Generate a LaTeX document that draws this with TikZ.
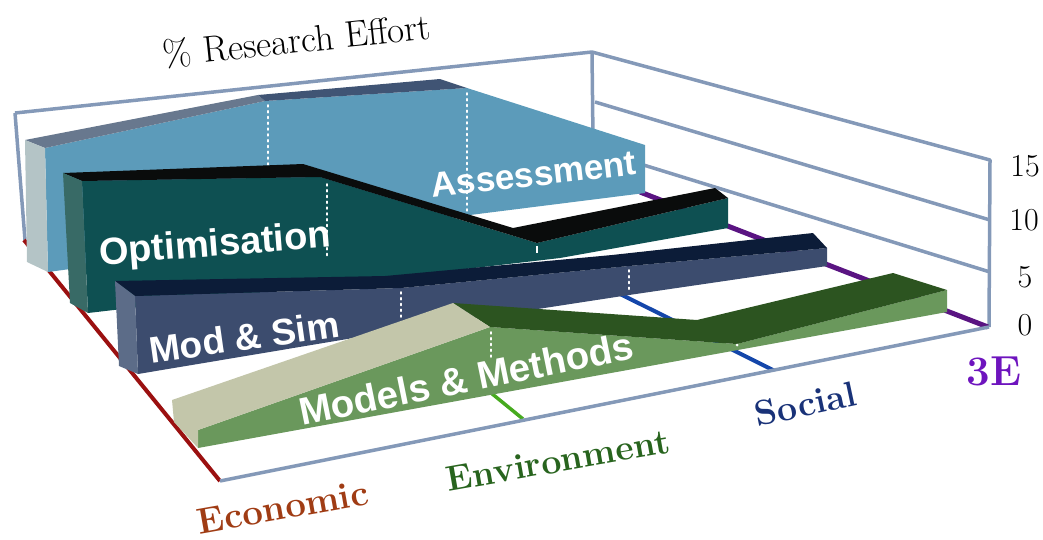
\documentclass[tikz,border=0pt]{standalone}
\usepackage{fontspec}
\newfontfamily\labfont{Liberation Sans}
\definecolor{framec}{RGB}{132,153,184}
\definecolor{asfront}{RGB}{92,155,186}
\definecolor{astopA}{RGB}{104,120,142}
\definecolor{astopB}{RGB}{64,84,116}
\definecolor{asend}{RGB}{180,196,198}
\definecolor{opfront}{RGB}{14,80,82}
\definecolor{optop}{RGB}{10,12,12}
\definecolor{opend}{RGB}{56,106,102}
\definecolor{msfront}{RGB}{60,76,110}
\definecolor{mstop}{RGB}{12,28,56}
\definecolor{msend}{RGB}{92,108,136}
\definecolor{mmfront}{RGB}{106,152,92}
\definecolor{mmtop}{RGB}{44,84,32}
\definecolor{mmkhaki}{RGB}{195,198,170}
\definecolor{redax}{RGB}{155,16,16}
\definecolor{purpax}{RGB}{90,20,130}
\definecolor{blueax}{RGB}{20,70,170}
\definecolor{greenax}{RGB}{70,170,30}
\definecolor{econc}{RGB}{160,60,20}
\definecolor{envc}{RGB}{40,100,30}
\definecolor{socc}{RGB}{25,50,120}
\definecolor{threec}{RGB}{110,20,190}
\begin{document}
\begin{tikzpicture}[x=1pt,y=-1pt,
  frameline/.style={draw=framec, line width=3.5pt, line join=round},
  dotline/.style={draw=white, line width=1.8pt, dash pattern=on 1.8pt off 4pt, line cap=round},
  ribbonlab/.style={text=white, inner sep=0pt, font=\labfont\bfseries\fontsize{37}{40}\selectfont, anchor=base},
  axlab/.style={inner sep=0pt, font=\bfseries\fontsize{35.5}{40}\selectfont, anchor=base},
  numlab/.style={inner sep=0pt, font=\fontsize{32}{36}\selectfont, anchor=center}]
\useasboundingbox (0,0) rectangle (1043,539);
% frame
\draw[frameline] (15,113) -- (592,52) -- (990,160) -- (989,327);
\draw[frameline] (592,52) -- (593,140);
\draw[frameline] (15,113) -- (25,240);
\draw[frameline] (595,102) -- (990,220);
\draw[frameline] (595,150) -- (990,272);
% axes on floor
\draw[draw=purpax, line width=5pt] (640,192) -- (988,327);
\draw[draw=blueax, line width=4pt] (600,284) -- (773,370);
\draw[draw=greenax, line width=3.5pt] (485,388) -- (523,419);
\draw[draw=redax, line width=4pt] (24,240) -- (220,481);
\draw[frameline] (220,481) -- (989,327);
% Assessment
\fill[asfront] (45,148) -- (265,101) -- (467,88) -- (645,145) -- (645,193) -- (470,215) -- (48,272) -- cycle;
\fill[astopA] (25,140) -- (258,95) -- (265,101) -- (45,148) -- cycle;
\fill[astopB] (258,95) -- (440,79) -- (467,88) -- (265,101) -- cycle;
\fill[asend] (25,140) -- (45,148) -- (48,272) -- (27,262) -- cycle;
\draw[dotline] (268,105) -- (268,165);
\draw[dotline] (467,93) -- (467,212);
% Optimisation
\fill[opfront] (82,181) -- (320,177) -- (537,243) -- (728,198) -- (728,228) -- (560,258) -- (88,313) -- cycle;
\fill[optop] (63,173) -- (303,164) -- (513,228) -- (715,188) -- (728,198) -- (537,243) -- (320,177) -- (82,181) -- cycle;
\fill[opend] (63,173) -- (82,181) -- (88,313) -- (70,303) -- cycle;
\draw[dotline] (327,184) -- (327,258);
\draw[draw=white, line width=1.8pt] (537,246) -- (537,253);
% Mod & Sim
\fill[msfront] (135,296) -- (401,288) -- (629,266) -- (827,248) -- (827,266) -- (629,295) -- (401,330) -- (138,374) -- cycle;
\fill[mstop] (115,281) -- (385,276) -- (612,255) -- (813,233) -- (827,248) -- (629,266) -- (401,288) -- (135,296) -- cycle;
\fill[msend] (115,281) -- (135,296) -- (138,374) -- (119,366) -- cycle;
\draw[dotline] (401,292) -- (401,318);
\draw[dotline] (629,270) -- (629,290);
% Models & Methods
\fill[mmfront] (198,430) -- (490,327) -- (737,344) -- (947,290) -- (947,312) -- (198,448) -- cycle;
\fill[mmtop] (453,303) -- (697,320) -- (893,273) -- (947,290) -- (737,344) -- (490,327) -- cycle;
\fill[mmkhaki] (172,400) -- (453,303) -- (490,327) -- (198,430) -- (198,448) -- (174,422) -- cycle;
\draw[dotline] (491,332) -- (491,357);
\fill[white] (737,345) circle (1.5pt);
% ribbon labels
\node[ribbonlab, rotate=6.5, font=\labfont\bfseries\fontsize{35}{40}\selectfont] (tA) at (535,186) {Assessment};
\node[ribbonlab, rotate=4.5, font=\labfont\bfseries\fontsize{38}{40}\selectfont] (tO) at (216,256) {Optimisation};
\node[ribbonlab, rotate=8] (tM) at (246,350) {Mod \& Sim};
\node[ribbonlab, rotate=11.5, font=\labfont\bfseries\fontsize{38.5}{40}\selectfont] (tMM) at (469,392) {Models \& Methods};
% axis labels
\node[anchor=base, inner sep=0pt, rotate=6, font=\fontsize{37}{40}\selectfont] (tR) at (298,53) {\% Research Effort};
\node[axlab, text=econc, rotate=10, font=\bfseries\fontsize{36.5}{40}\selectfont] (tE) at (285,519) {Economic};
\node[axlab, text=envc, rotate=10] (tEn) at (560,472) {Environment};
\node[axlab, text=socc, rotate=12] (tS) at (808,416) {Social};
\node[anchor=base, inner sep=0pt, text=threec, font=\bfseries\fontsize{42}{46}\selectfont] (t3E) at (994,385) {3E};
\node[numlab] (n15) at (1025,166) {15};
\node[numlab] (n10) at (1024,220) {10};
\node[numlab] (n5) at (1025,277) {5};
\node[numlab] (n0) at (1025,325) {0};
\end{tikzpicture}
\end{document}
